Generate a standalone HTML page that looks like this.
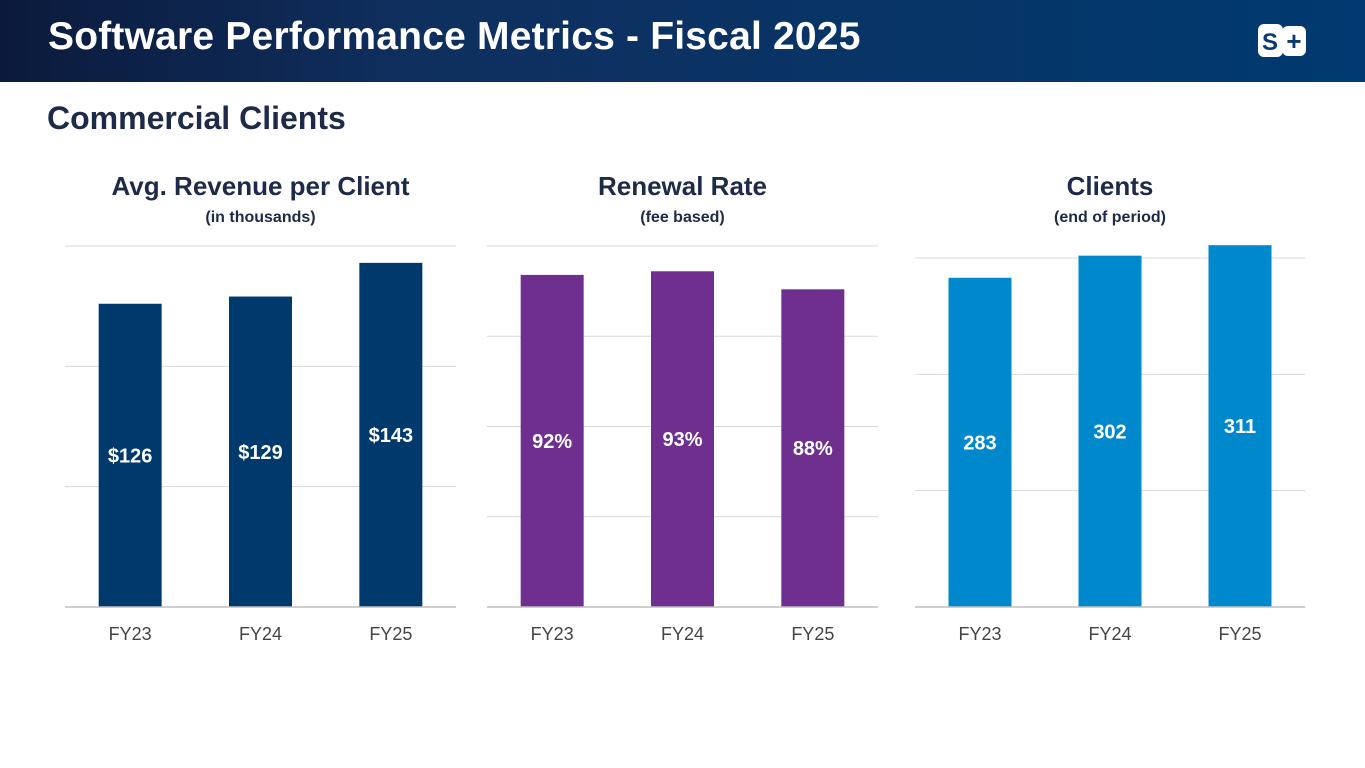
<!DOCTYPE html>
<html><head><meta charset="utf-8"><style>
body{margin:0;width:1365px;height:768px;overflow:hidden;background:#fff;font-family:"Liberation Sans",sans-serif;position:relative}
#hdr{position:absolute;left:0;top:0;width:1365px;height:82px;background:linear-gradient(90deg,#0b1a3c 0%,#0f2f5e 30%,#003a70 100%)}
#title{position:absolute;left:48px;top:15px;color:#fff;font-weight:bold;font-size:39px;letter-spacing:0.2px}
#sub{position:absolute;left:47px;top:100px;color:#1e2a48;font-weight:bold;font-size:32px}
svg{position:absolute;left:0;top:0}
</style></head><body>
<div id="hdr"></div>
<div id="title">Software Performance Metrics - Fiscal 2025</div>
<svg width="1365" height="82">
<rect x="1258" y="24" width="25" height="33" rx="6" fill="#fff"/><rect x="1282" y="26" width="24" height="30" rx="6" fill="#fff"/>
<text x="1270" y="50" text-anchor="middle" font-size="24" font-weight="bold" fill="#0a3a70" font-family="Liberation Sans">S</text>
<text x="1294" y="50" text-anchor="middle" font-size="26" font-weight="bold" fill="#0a3a70" font-family="Liberation Sans">+</text>
</svg>
<div id="sub">Commercial Clients</div>
<svg id="charts" width="1365" height="768"></svg>
<script>
const categories=["FY23","FY24","FY25"];
const revenueValues=[126,129,143];
const renewalValues=[92,93,88];
const clientValues=[283,302,311];
const revenueTicks=[0,50,100,150];
const renewalTicks=[0,25,50,75,100];
const clientTicks=[0,100,200,300];
const charts=[
 {name:"revenue",title:"Avg. Revenue per Client",sub:"(in thousands)",x0:65,x1:456,max:150,ticks:revenueTicks,vals:revenueValues,color:"#003a6c",fmt:v=>"$"+v},
 {name:"renewal",title:"Renewal Rate",sub:"(fee based)",x0:487,x1:878,max:100,ticks:renewalTicks,vals:renewalValues,color:"#6e2f8f",fmt:v=>v+"%"},
 {name:"clients",title:"Clients",sub:"(end of period)",x0:915,x1:1305,max:300,ticks:clientTicks,vals:clientValues,color:"#0088cc",fmt:v=>""+v}
];
const ns="http://www.w3.org/2000/svg",svg=document.getElementById('charts');
const base=607;
function mk(t,a,parent){const e=document.createElementNS(ns,t);for(const k in a)e.setAttribute(k,a[k]);(parent||svg).appendChild(e);return e;}
const topPx={revenue:246,renewal:246,clients:258};
charts.forEach(c=>{
 const g=mk('g',{});
 
 
 const y=v=>base-(v/c.max)*(base-topPx[c.name]);
 const cx=(c.x0+c.x1)/2,bw=(c.x1-c.x0)/3;
 const t=mk('text',{x:cx,y:195,'text-anchor':'middle','font-size':26,'font-weight':'bold',fill:'#1e2a48'},g);t.textContent=c.title;
 
 
 const s=mk('text',{x:cx,y:222,'text-anchor':'middle','font-size':16,'font-weight':'bold',fill:'#1e2a48'},g);s.textContent=c.sub;
 
 
 c.ticks.forEach(tk=>{if(tk===0)return;const l=mk('line',{x1:c.x0,x2:c.x1,y1:y(tk),y2:y(tk),stroke:'#d9d9d9','stroke-width':1},g);
  
  });
 c.vals.forEach((v,i)=>{
  const bx=c.x0+bw*i+bw/2;
  const r=mk('rect',{x:bx-31.5,y:y(v),width:63,height:base-y(v),fill:c.color},g);
  
  
  const lb=mk('text',{x:bx,y:(y(v)+base)/2+7,'text-anchor':'middle','font-size':20,'font-weight':'bold',fill:'#fff'},g);lb.textContent=c.fmt(v);
  
  
  const xl=mk('text',{x:bx,y:640,'text-anchor':'middle','font-size':18,fill:'#444'},g);xl.textContent=categories[i];
  
  
 });
 const ax=mk('line',{x1:c.x0,x2:c.x1,y1:base,y2:base,stroke:'#bfbfbf','stroke-width':1.5},g);
 
 
});
</script>
</body></html>
